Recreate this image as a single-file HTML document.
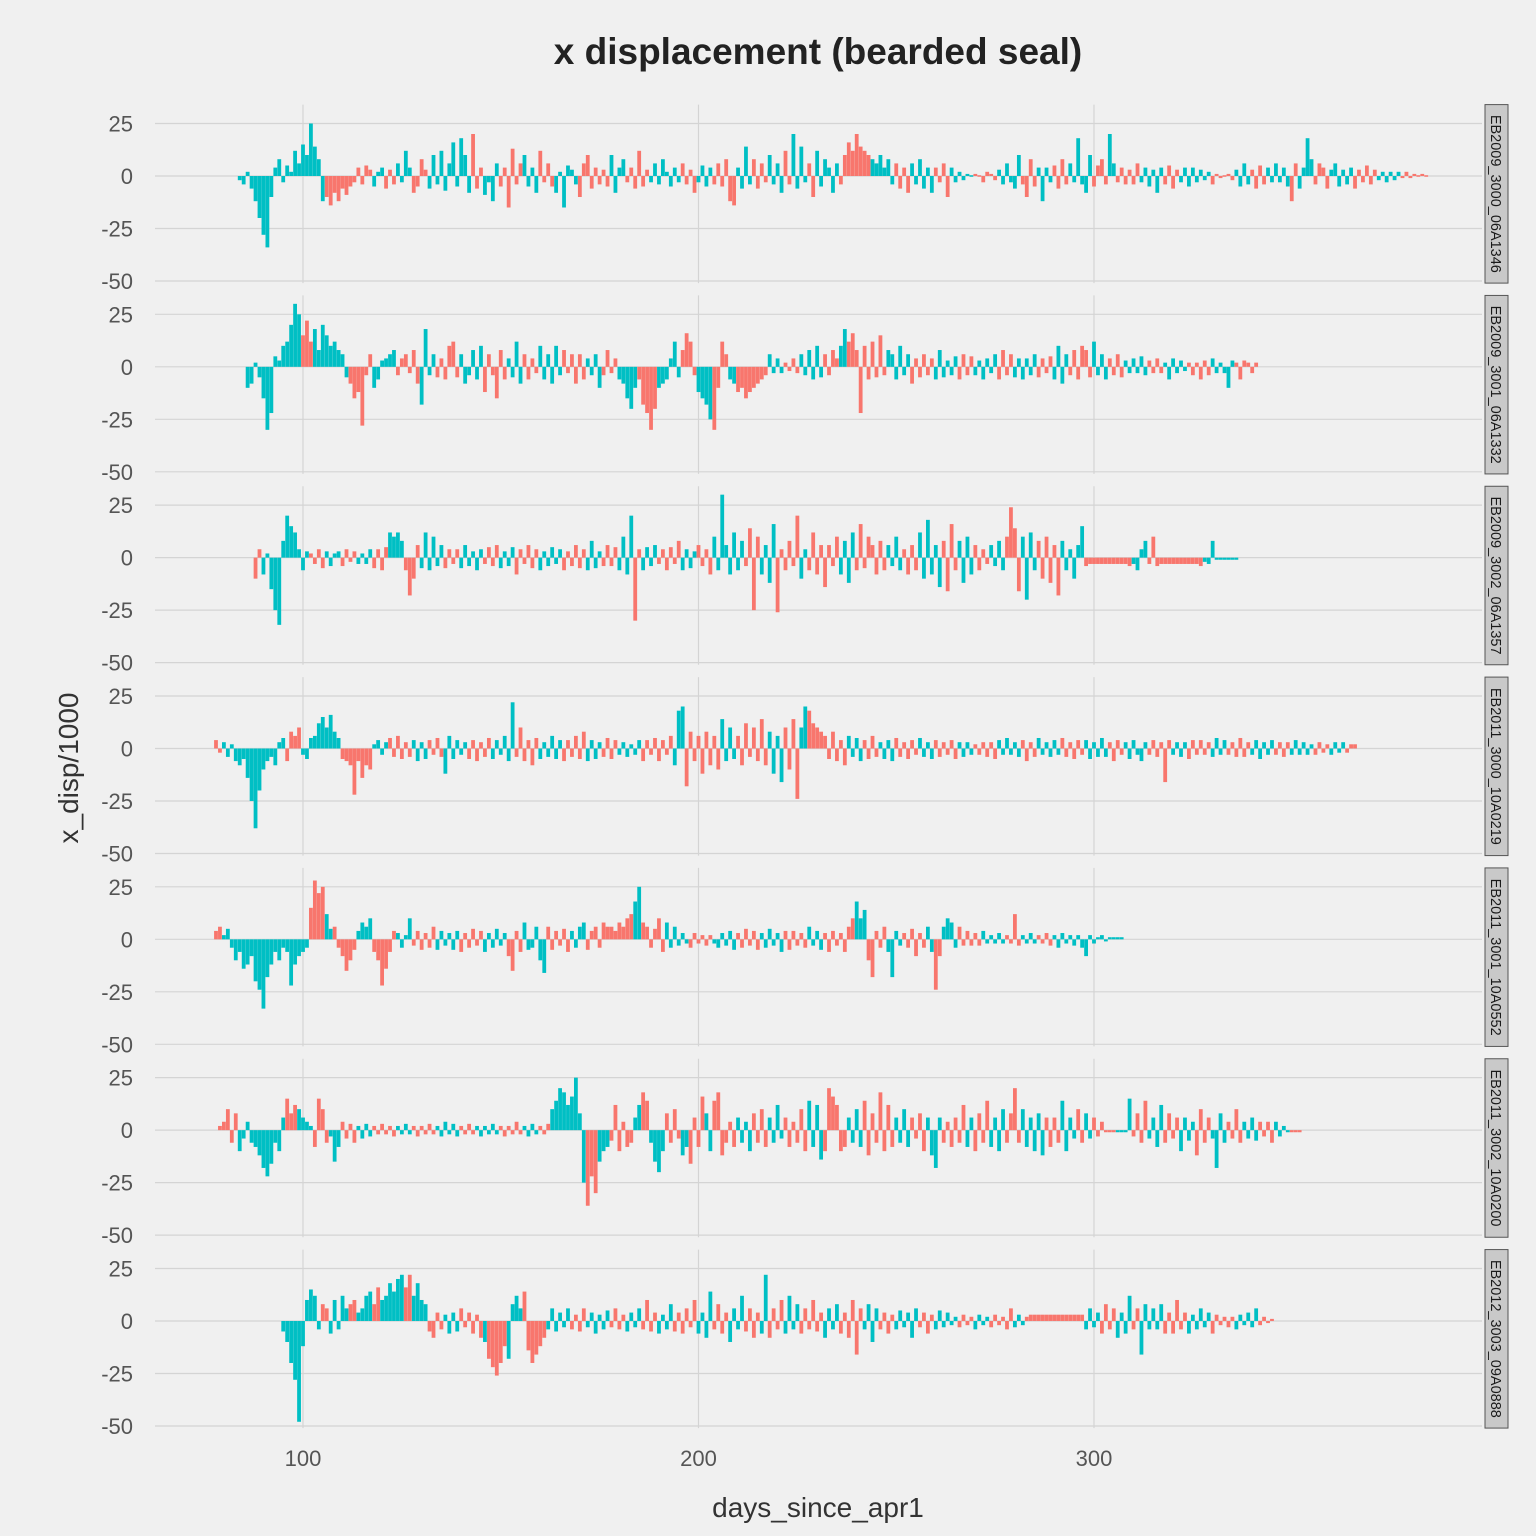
<!DOCTYPE html>
<html><head><meta charset="utf-8"><style>
body{margin:0;background:#f0f0f0;}
svg{display:block;font-family:"Liberation Sans",sans-serif;}
</style></head><body>
<svg id="chart" width="1536" height="1536" viewBox="0 0 1536 1536" xmlns="http://www.w3.org/2000/svg">
<rect width="1536" height="1536" fill="#f0f0f0"/>
<text x="818" y="64" text-anchor="middle" font-size="37" font-weight="bold" fill="#222">x displacement (bearded seal)</text>
<text x="818" y="1517" text-anchor="middle" font-size="28" fill="#333">days_since_apr1</text>
<text transform="translate(78,768) rotate(-90)" text-anchor="middle" font-size="28" fill="#333">x_disp/1000</text>
<g id="panels"></g>
</svg>
<script>
const panelNames = ["EB2009_3000_06A1346","EB2009_3001_06A1332","EB2009_3002_06A1357","EB2011_3000_10A0219","EB2011_3001_10A0552","EB2011_3002_10A0200","EB2012_3003_09A0888"];
const startDays = [84,86,88,78,78,79,95];
const yTicks = [25,0,-25,-50];
const xTicks = [100,200,300];
const v1 = [-2,-4,2,-6,-12,-20,-28,-34,-10,4, 8,-3,5,2,12,6,15,10,25,14, 8,-12,-10,-14,-8,-12,-6,-9,-5,-3, 4,-4,5,3,-5,2,4,-6,3,-4, 6,-3,12,4,-8,-5,8,3,-6,10, -4,12,-7,6,16,-5,18,10,-8,20, -6,4,-9,-3,-12,6,-5,4,-15,13, -4,6,10,-5,4,-8,12,-3,6,-5, -8,2,-15,5,3,-4,-10,6,10,-6, 4,-4,3,-5,10,-8,4,8,-3,4, -6,12,-5,3,-3,6,-4,8,2,-5, 4,-3,6,-4,3,-8,-3,5,-5,4, -4,6,-5,8,-12,-14,4,-6,14,-4, 8,-6,6,-3,10,-4,6,-8,12,-4, 20,-6,14,-3,6,-10,12,-5,8,4, -8,6,-4,10,16,12,20,14,12,10, 8,6,10,4,8,-4,6,-6,4,-8, 6,-4,8,-6,4,-8,4,-3,6,-10, 4,-3,2,-2,1,0,1,0,-3,2, 1,-2,3,-4,6,-3,-6,10,-4,-10, 8,-5,4,-12,4,-3,5,-6,8,-4, 6,-3,18,-4,-8,10,-5,5,8,-4, 20,6,-3,4,-4,3,-4,6,-3,4, -5,3,-8,4,-4,5,-6,3,-3,4, -5,4,-3,3,-2,2,-4,1,-1,0, 1,-2,3,-5,6,-4,3,-6,5,-4, 4,-3,6,-3,4,-5,-12,6,-6,4, 18,8,-4,6,4,-6,3,6,-5,3, -4,4,-6,3,-3,5,-4,3,-2,2, -3,2,-2,2,-1,2,-1,1,0,1, 0];
const v2 = [-10,-8,2,-5,-15,-30,-22,5,3,10, 12,20,30,25,15,22,12,18,8,20, 15,10,12,8,6,-5,-8,-15,-12,-28, -4,6,-10,-6,3,4,6,8,-4,4, 6,-3,8,-8,-18,18,-4,6,-5,4, -6,10,12,-5,6,-8,-4,8,-6,10, -12,6,-4,-15,8,-6,4,-5,12,-8, 6,-6,4,-3,10,-6,6,-8,10,-4, 8,-3,6,-8,6,-6,4,-4,6,-10, -4,8,-3,4,-6,-8,-15,-20,-10,-6, -18,-22,-30,-20,-10,-8,-6,4,12,-5, 8,16,12,-4,-12,-15,-18,-25,-30,-10, 12,6,-6,-8,-12,-10,-15,-12,-10,-8, -6,-4,6,-3,4,-3,2,-2,4,-3, 6,-4,8,-6,10,-5,6,-4,8,4, 10,18,12,16,8,-22,10,-6,12,-5, 15,-4,8,6,-6,10,-4,6,-8,4, -5,6,-4,4,-6,8,-5,3,-4,5, -6,6,-4,5,-4,3,-6,4,-3,6, -6,8,-4,6,-5,4,-6,4,-4,6, -5,4,-3,5,-6,10,-8,6,-4,8, -6,10,8,-5,12,-4,6,-6,4,-4, 6,-5,3,-3,4,-3,5,-4,3,-3, 4,-3,2,-6,4,-3,3,-2,2,-4, 2,-6,3,-4,4,-3,2,-3,-10,3, 2,-6,3,2,-3,2];
const v3 = [-10,4,-8,2,-15,-25,-32,8,20,15, 12,4,-6,3,2,-3,4,-5,3,-4, 2,3,-4,4,-2,3,-3,2,-3,4, -5,4,-6,5,12,10,12,8,-6,-18, -10,6,-5,12,-6,10,-4,6,-5,4, -3,4,-5,6,-4,3,-6,4,-3,5, -4,6,-5,3,-4,5,-8,4,-3,6, -5,4,-6,3,-4,5,-3,4,-6,3, -4,6,-5,4,-6,8,-5,3,-4,6, -4,5,-6,10,-8,20,-30,4,-6,5, -4,6,-3,4,-6,5,-3,8,-6,4, -5,3,6,-4,4,-8,10,-6,30,6, -8,12,-6,8,-4,14,-25,10,-8,6, -12,16,-26,4,-6,8,-4,20,-10,4, -6,12,-8,6,-14,6,-4,10,-8,8, -12,12,-6,16,-5,10,6,-8,8,-6, 6,-4,10,-6,4,-8,6,-6,12,-10, 18,-8,6,-14,8,-16,16,-6,8,-12, 10,-8,6,-6,4,-3,6,-4,8,-6, 10,24,14,-16,10,-20,12,-6,8,-10, 10,-12,6,-18,8,-6,4,-10,6,15, -4,-3,-3,-3,-3,-3,-3,-3,-3,-3, -3,-4,-3,-6,4,8,-3,10,-4,-3, -3,-3,-3,-3,-3,-3,-3,-3,-3,-4, -2,-3,8,-1,-1,-1,-1,-1,-1];
const v4 = [4,-2,3,-4,2,-6,-8,-5,-14,-25, -38,-20,-10,-6,-4,-8,3,5,-6,8, 6,10,-3,-5,5,6,12,15,10,16, 8,5,-5,-6,-8,-22,-6,-14,-8,-10, 2,4,-3,3,5,-4,6,-5,3,-4, 4,-6,3,-5,4,-3,5,-4,-12,6, -5,4,-3,3,-5,4,-6,3,-4,5, -5,4,-3,6,-6,22,-4,10,-6,4, -8,5,-5,3,-4,6,-5,4,-6,4, -4,6,-5,8,-6,4,-5,3,-4,5, -5,4,-3,3,-4,2,-3,4,-6,4, -3,5,-6,4,-3,6,-8,18,20,-18, 8,-6,6,-12,8,-8,6,-10,14,-6, 10,-5,6,-8,12,-4,10,-6,14,-8, 8,-12,6,-16,10,-10,14,-24,10,20, 18,12,10,8,6,-5,8,-6,4,-8, 6,-4,5,-6,4,-5,6,-4,3,-5, 4,-6,5,-4,3,-5,4,-3,5,-4, 3,-5,4,-4,3,-3,4,-5,3,-4, 3,-3,2,-3,3,-4,3,-5,4,-3, 5,-3,3,-4,4,-6,3,-4,5,-3, 3,-4,4,-3,5,-4,3,-5,4,-3, 4,-5,3,-4,5,-4,3,-6,4,-3, 3,-5,4,-3,-6,3,-3,4,-4,3, -16,4,-3,3,-4,3,-5,4,-3,4, -3,3,-4,5,-3,4,-3,3,-4,5, -4,3,-3,4,-5,3,-3,4,-3,3, -4,3,-3,4,-3,3,-3,2,-3,3, -2,2,-3,3,-2,3,-2,2,2];
const v5 = [4,6,2,5,-4,-10,-6,-14,-12,-8, -20,-24,-33,-18,-12,-6,-10,-4,-6,-22, -12,-8,-6,-4,15,28,22,25,12,5, 6,-4,-8,-15,-10,-5,4,8,6,10, -6,-10,-22,-14,-6,4,3,-4,2,10, -3,4,-5,3,-4,6,-5,4,-3,3, -5,4,-6,3,-4,5,-3,4,-6,3, -4,5,-3,3,-8,-15,4,-6,8,-5, -4,6,-10,-16,6,-5,4,-3,5,-6, 4,-4,6,8,-5,4,6,-4,8,6, 6,4,8,6,10,12,18,25,8,6, -4,5,10,-6,8,-4,6,-3,3,-2, -4,3,-2,2,-3,2,-2,-4,3,-3, 4,-5,3,-4,5,-3,4,-5,3,-4, 5,-3,3,-6,4,-5,4,-3,3,-4, 6,-3,4,-5,3,-6,4,-3,3,-6, 6,10,18,10,14,-10,-18,4,-4,6, -6,-18,4,-3,3,-4,5,-8,3,-4, 6,-6,-24,-8,6,10,8,-4,6,-3, 4,-3,3,-3,4,-2,2,-2,3,-2, 2,-2,12,-3,2,-2,3,-2,2,-2, 3,-3,2,-4,3,-2,2,-3,2,-4, -8,2,-2,1,2,-1,1,1,1,1];
const v6 = [2,4,10,-6,8,-10,-4,4,-6,-8, -12,-18,-22,-16,-6,-10,6,15,8,12, 10,6,4,2,-8,15,10,-6,-3,-15, -8,4,-4,3,-6,2,-4,3,-3,2, -2,3,-2,2,-3,2,-2,3,-2,2, -3,2,-2,3,-2,2,-3,4,-2,3, -3,2,-2,3,-2,2,-3,2,-2,3, -2,2,-3,2,-2,4,-2,2,-3,3, -2,2,-2,3,10,14,20,18,12,16, 25,8,-25,-36,-22,-30,-15,-10,-8,-5, 12,-10,4,-8,-6,6,12,18,14,-6, -15,-20,-10,8,-6,10,-4,-12,-8,-16, 6,-8,16,8,-10,14,18,-12,-6,4, -8,6,-6,4,-10,8,-6,10,-8,6, -6,12,-4,6,-8,4,-6,10,-10,14, -8,12,-14,-10,20,16,12,-10,-8,6, -6,10,-8,14,-12,8,-6,18,-10,12, -8,6,-6,10,-8,6,-4,8,-10,6, -12,-18,6,-6,4,-8,6,-6,12,-8, 6,-10,8,-6,14,-8,6,-10,10,-6, 8,20,-6,10,-8,6,-10,8,-12,6, -8,6,-6,14,-10,6,-4,10,-6,8, -4,6,-3,4,-1,-1,-1,-1,-1,-1, 15,-3,8,-6,14,-4,6,-8,12,-6, 8,-4,6,-10,6,-5,4,-12,10,-6, 6,-4,-18,8,-6,4,-4,10,-6,4, -4,6,-5,4,-3,4,-6,4,-3,2, -1,-1,-1,-1];
const v7 = [-5,-10,-20,-28,-48,-12,10,15,12,-4, 8,6,-6,10,-4,12,6,8,10,4, 6,12,14,8,16,10,12,18,14,20, 22,16,22,12,18,10,8,-5,-8,4, -4,3,-6,4,-5,6,-3,4,-6,3, -8,-10,-18,-22,-26,-20,-12,-18,8,12, 6,14,-14,-20,-16,-12,-8,-4,6,-5, 4,-3,6,-4,3,-5,6,-3,4,-6, 3,-4,5,-3,6,-4,3,-5,4,-3, 6,-4,10,-5,4,-6,3,-4,8,-5, 4,-6,6,-3,10,-6,4,-8,14,-4, 8,-6,4,-10,6,-4,12,-5,6,-8, 4,-6,22,-8,6,-4,10,-6,12,-4, 8,-6,6,-4,10,-5,4,-8,6,-4, 8,-6,4,-8,10,-16,6,-4,8,-10, 6,-4,4,-6,3,-4,5,-3,4,-8, 6,-3,4,-6,3,-4,5,-3,4,-2, 2,-3,3,-2,2,-4,3,-2,2,-3, 3,-2,2,-4,6,-3,3,-2,2,3, 3,3,3,3,3,3,3,3,3,3, 3,3,3,-4,6,-3,4,-6,8,-4, 6,-8,4,-6,12,-4,6,-16,8,-4, 6,-4,8,-6,4,-6,10,-4,4,-6, 3,-4,6,-3,4,-6,3,-2,2,-3, 2,-4,3,-2,4,-3,6,-2,2,-1, 1];
const values = [v1,v2,v3,v4,v5,v6,v7];
// colour category runs: [start day, 't' = teal / 'r' = salmon]
const c1 = [[84,'t'],[106,'r'],[118,'t'],[121,'r'],[124,'t'],[128,'r'],[132,'t'],[143,'r'],[146,'t'],[150,'r'],[156,'t'],[160,'r'],[164,'t'],[170,'r'],[178,'t'],[182,'r'],[188,'t'],[196,'r'],[200,'t'],[204,'r'],[210,'t'],[214,'r'],[218,'t'],[222,'r'],[224,'t'],[228,'r'],[230,'t'],[236,'r'],[244,'t'],[250,'r'],[254,'t'],[260,'r'],[264,'t'],[270,'r'],[276,'t'],[282,'r'],[286,'t'],[290,'r'],[294,'t'],[300,'r'],[304,'t'],[306,'r'],[312,'t'],[318,'r'],[322,'t'],[330,'r'],[336,'t'],[340,'r'],[344,'t'],[350,'r'],[352,'t'],[356,'r'],[360,'t'],[366,'r'],[372,'t'],[378,'r']];
const c2 = [[86,'t'],[100,'r'],[103,'t'],[112,'r'],[118,'t'],[124,'r'],[130,'t'],[134,'r'],[140,'t'],[146,'r'],[152,'t'],[156,'r'],[160,'t'],[166,'r'],[172,'t'],[176,'r'],[180,'t'],[185,'r'],[190,'t'],[196,'r'],[200,'t'],[204,'r'],[208,'t'],[210,'r'],[218,'t'],[222,'r'],[226,'t'],[232,'r'],[236,'t'],[238,'r'],[248,'t'],[254,'r'],[260,'t'],[266,'r'],[270,'t'],[276,'r'],[280,'t'],[286,'r'],[290,'t'],[294,'r'],[300,'t'],[304,'r'],[308,'t'],[314,'r'],[318,'t'],[324,'r'],[330,'t'],[336,'r']];
const c3 = [[88,'r'],[90,'t'],[102,'r'],[106,'t'],[110,'r'],[114,'t'],[118,'r'],[122,'t'],[126,'r'],[130,'t'],[136,'r'],[140,'t'],[146,'r'],[150,'t'],[154,'r'],[160,'t'],[166,'r'],[172,'t'],[176,'r'],[180,'t'],[184,'r'],[186,'t'],[190,'r'],[196,'t'],[200,'r'],[204,'t'],[212,'r'],[216,'t'],[220,'r'],[226,'t'],[228,'r'],[236,'t'],[240,'r'],[248,'t'],[252,'r'],[256,'t'],[262,'r'],[266,'t'],[270,'r'],[274,'t'],[278,'r'],[282,'t'],[286,'r'],[292,'t'],[298,'r'],[310,'t'],[314,'r'],[328,'t']];
const c4 = [[78,'r'],[80,'t'],[96,'r'],[100,'t'],[110,'r'],[118,'t'],[122,'r'],[128,'t'],[132,'r'],[136,'t'],[142,'r'],[148,'t'],[154,'r'],[160,'t'],[166,'r'],[172,'t'],[176,'r'],[180,'t'],[186,'r'],[194,'t'],[197,'r'],[206,'t'],[210,'r'],[218,'t'],[222,'r'],[226,'t'],[228,'r'],[238,'t'],[242,'r'],[246,'t'],[250,'r'],[256,'t'],[260,'r'],[266,'t'],[270,'r'],[276,'t'],[282,'r'],[286,'t'],[292,'r'],[298,'t'],[304,'r'],[308,'t'],[314,'r'],[320,'t'],[324,'r'],[330,'t'],[334,'r'],[340,'t'],[346,'r'],[350,'t'],[356,'r'],[360,'t'],[364,'r']];
const c5 = [[78,'r'],[80,'t'],[102,'r'],[106,'t'],[108,'r'],[114,'t'],[118,'r'],[124,'t'],[128,'r'],[134,'t'],[140,'r'],[146,'t'],[152,'r'],[156,'t'],[162,'r'],[168,'t'],[172,'r'],[184,'t'],[186,'r'],[192,'t'],[198,'r'],[204,'t'],[210,'r'],[216,'t'],[222,'r'],[228,'t'],[232,'r'],[240,'t'],[243,'r'],[248,'t'],[252,'r'],[258,'t'],[260,'r'],[262,'t'],[266,'r'],[272,'t'],[278,'r'],[282,'t'],[286,'r'],[290,'t']];
const c6 = [[79,'r'],[84,'t'],[96,'r'],[99,'t'],[103,'r'],[107,'t'],[110,'r'],[114,'t'],[118,'r'],[124,'t'],[128,'r'],[134,'t'],[140,'r'],[144,'t'],[150,'r'],[156,'t'],[160,'r'],[163,'t'],[172,'r'],[175,'t'],[178,'r'],[184,'t'],[186,'r'],[188,'t'],[192,'r'],[196,'t'],[198,'r'],[202,'t'],[204,'r'],[210,'t'],[214,'r'],[218,'t'],[222,'r'],[228,'t'],[232,'r'],[238,'t'],[242,'r'],[250,'t'],[254,'r'],[258,'t'],[262,'r'],[268,'t'],[270,'r'],[274,'t'],[278,'r'],[282,'t'],[288,'r'],[292,'t'],[296,'r'],[298,'t'],[300,'r'],[306,'t'],[310,'r'],[314,'t'],[318,'r'],[322,'t'],[326,'r'],[330,'t'],[334,'r'],[338,'t'],[342,'r'],[346,'t'],[350,'r']];
const c7 = [[95,'t'],[105,'r'],[107,'t'],[112,'r'],[114,'t'],[118,'r'],[120,'t'],[126,'r'],[128,'t'],[132,'r'],[136,'t'],[140,'r'],[146,'t'],[147,'r'],[152,'t'],[156,'r'],[162,'t'],[168,'r'],[172,'t'],[178,'r'],[182,'t'],[186,'r'],[190,'t'],[194,'r'],[200,'t'],[204,'r'],[208,'t'],[212,'r'],[216,'t'],[218,'r'],[222,'t'],[226,'r'],[232,'t'],[236,'r'],[242,'t'],[246,'r'],[250,'t'],[256,'r'],[260,'t'],[266,'r'],[270,'t'],[274,'r'],[280,'t'],[283,'r'],[298,'t'],[302,'r'],[306,'t'],[310,'r'],[312,'t'],[318,'r'],[324,'t'],[330,'r'],[336,'t'],[342,'r']];
const colorRuns = [c1,c2,c3,c4,c5,c6,c7];

const NS = "http://www.w3.org/2000/svg";
const plotL = 155, plotR = 1482;
const xScale = d => 303 + (d - 100) * 3.955;
const panelZero = i => 176 + i * 190.83;
const yScale = (i, v) => panelZero(i) - v * 2.1;
const COL = {t:'#00BFC4', r:'#F8766D'};
function colorFor(runs, d){ let c = runs[0][1]; for (const r of runs){ if (d >= r[0]) c = r[1]; } return c; }
function mk(tag, attrs, parent){ const e = document.createElementNS(NS, tag); for (const k in attrs) e.setAttribute(k, attrs[k]); parent.appendChild(e); return e; }

const root = document.getElementById('panels');
panelNames.forEach((name, i) => {
  const g = mk('g', {}, root);
  
  
  const top = yScale(i, 34), bot = yScale(i, -51);
  yTicks.forEach(t => {
    const y = yScale(i, t);
    const l = mk('line', {x1: plotL, x2: plotR, y1: y, y2: y, stroke: '#d4d4d4', 'stroke-width': 1.2}, g);
    
    
    const tx = mk('text', {x: 133, y: y + 8, 'text-anchor': 'end', 'font-size': 22, fill: '#555'}, g);
    tx.textContent = t;
    
    
  });
  xTicks.forEach(t => {
    const x = xScale(t);
    const l = mk('line', {x1: x, x2: x, y1: top, y2: bot, stroke: '#d4d4d4', 'stroke-width': 1.2}, g);
    
    
  });
  const vals = values[i];
  vals.forEach((v, k) => {
    const d = startDays[i] + k;
    const x = xScale(d) - 1.9;
    const y0 = yScale(i, 0), y1 = yScale(i, v);
    const h = Math.max(Math.abs(y1 - y0), 1.5);
    const r = mk('rect', {x: x, y: Math.min(y0, y1) - (v === 0 ? 0.75 : 0), width: 3.8, height: h, fill: COL[colorFor(colorRuns[i], d)]}, g);
    
    
  });
  const sTop = top, sH = bot - top;
  const s = mk('rect', {x: 1485, y: sTop, width: 23, height: sH, fill: '#c9c9c9', stroke: '#555', 'stroke-width': 1}, g);
  
  
  const st = mk('text', {transform: `translate(1491,${sTop + sH/2}) rotate(90)`, 'text-anchor': 'middle', 'font-size': 14.5, fill: '#1a1a1a'}, g);
  st.textContent = name;
  
  
});
xTicks.forEach(t => {
  const tx = mk('text', {x: xScale(t), y: 1466, 'text-anchor': 'middle', 'font-size': 22, fill: '#555'}, root);
  tx.textContent = t;
  
  
});
</script>
</body></html>
